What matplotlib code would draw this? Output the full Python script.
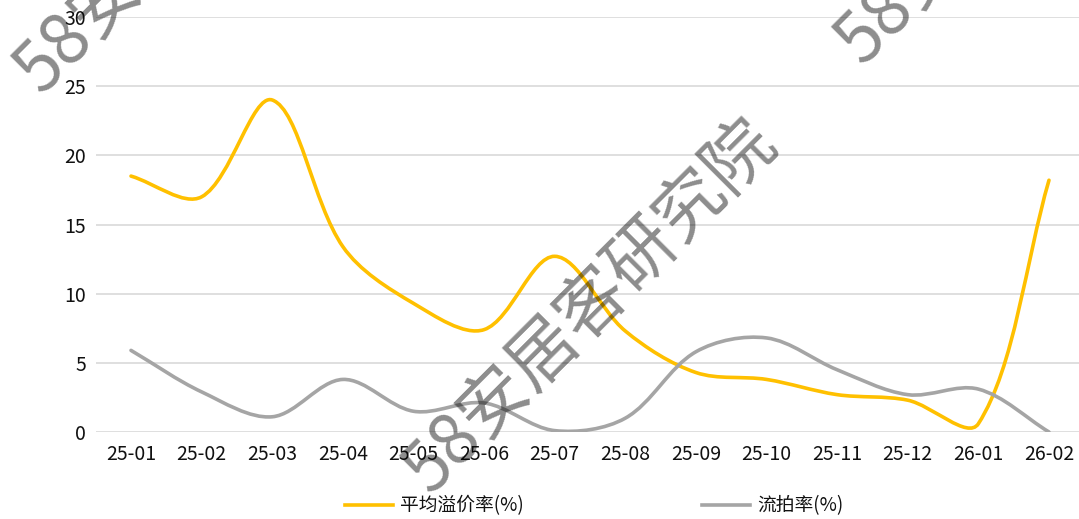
import numpy as np
import matplotlib
matplotlib.use('Agg')
import matplotlib.pyplot as plt
from matplotlib.path import Path
from matplotlib.patches import PathPatch
from matplotlib.lines import Line2D

plt.rcParams['font.family'] = ['Noto Sans CJK SC', 'DejaVu Sans']

months = ['25-01', '25-02', '25-03', '25-04', '25-05', '25-06', '25-07',
          '25-08', '25-09', '25-10', '25-11', '25-12', '26-01', '26-02']
premium = [18.5, 17.0, 24.0, 13.4, 9.3, 7.4, 12.7, 7.3, 4.3, 3.8, 2.7, 2.3, 0.6, 18.2]   # 平均溢价率(%)
unsold = [5.9, 2.9, 1.1, 3.8, 1.5, 2.1, 0.1, 1.0, 5.8, 6.8, 4.5, 2.7, 3.1, 0.0]          # 流拍率(%)
yticks = [0, 5, 10, 15, 20, 25, 30]

C_YEL = '#FFC000'
C_GRY = '#A5A5A5'


def smooth_path(ax, x, y, t=1 / 3):      # excel-ish smooth line, done in pixel space
    pts = ax.transData.transform(np.column_stack([x, y]))
    n = len(pts)
    cin = [None] * n
    cout = [None] * n
    for i in range(n):
        prv = pts[i - 1] if i > 0 else pts[i]
        nxt = pts[i + 1] if i < n - 1 else pts[i]
        d = nxt - prv
        l1 = np.hypot(*(pts[i] - prv))
        l2 = np.hypot(*(nxt - pts[i]))
        s = l1 + l2 if l1 + l2 > 0 else 1
        cin[i] = pts[i] - d * t * l1 / s
        cout[i] = pts[i] + d * t * l2 / s
    verts = [pts[0]]
    codes = [Path.MOVETO]
    for i in range(n - 1):
        verts += [cout[i], cin[i + 1], pts[i + 1]]
        codes += [Path.CURVE4] * 3
    verts = ax.transData.inverted().transform(np.array(verts))
    return Path(verts, codes)


fig = plt.figure(figsize=(10.79, 5.19), dpi=100)
ax = fig.add_axes([95.7 / 1079, 87 / 519, (1079 - 95.7) / 1079, 415 / 519])
x = np.arange(len(months))
ax.set_xlim(-0.5, 13.425)
ax.set_ylim(0, 30)

for s in ax.spines.values():
    s.set_visible(False)
ax.set_yticks(yticks)
ax.set_xticks(x)
ax.set_xticklabels(months)
ax.tick_params(length=0, labelsize=14, colors='#111111', pad=9)
ax.tick_params(axis='y', pad=7)
ax.grid(axis='y', color='#d9d9d9', lw=1.2)
ax.set_axisbelow(True)

ax.add_patch(PathPatch(smooth_path(ax, x, premium), fill=False, edgecolor=C_YEL, lw=2.6, capstyle='round'))
ax.add_patch(PathPatch(smooth_path(ax, x, unsold), fill=False, edgecolor=C_GRY, lw=2.6, capstyle='round'))

h1 = Line2D([], [], color=C_YEL, lw=2.6)
h2 = Line2D([], [], color=C_GRY, lw=2.6)
fig.legend([h1, h2], ['平均溢价率(%)', '流拍率(%)'], ncol=2, frameon=False,
           loc='center left', bbox_to_anchor=(328 / 1079, 13 / 519),
           fontsize=13.5, handlelength=2.55, handletextpad=0.4, columnspacing=9.5,
           labelcolor='#111111')

# watermarks
wm = dict(rotation=45, ha='center', va='center', rotation_mode='anchor',
          fontsize=50, fontweight='light', color='black', alpha=0.45, zorder=10)
fig.text(590 / 1079, 1 - 307 / 519, '58安居客研究院', **wm)
fig.text(201 / 1079, 1 + 93 / 519, '58安居客研究院', **wm)
fig.text(1022 / 1079, 1 + 122 / 519, '58安居客研究院', **wm)

fig.savefig('out.png', dpi=100)
